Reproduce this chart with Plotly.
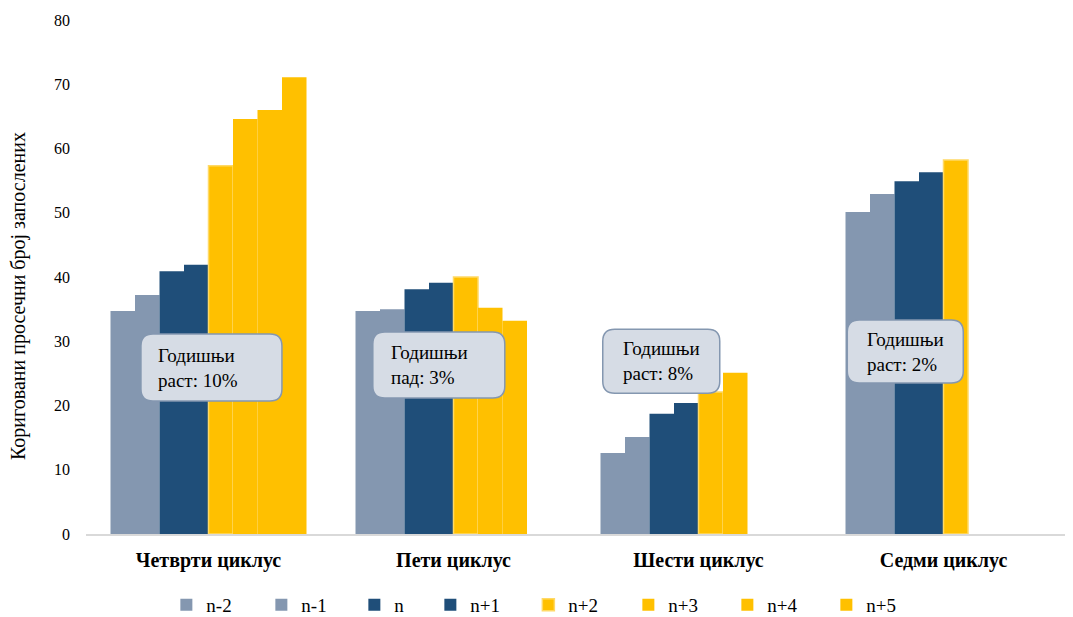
import plotly.graph_objects as go

cycles = ["Четврти циклус", "Пети циклус", "Шести циклус", "Седми циклус"]
series_names = ["n-2", "n-1", "n", "n+1", "n+2", "n+3", "n+4", "n+5"]

n_m2 = [34.7, 34.7, 12.6, 50.1]
n_m1 = [37.2, 35.0, 15.1, 52.9]
n_0 = [40.9, 38.1, 18.7, 54.9]
n_p1 = [41.9, 39.1, 20.4, 56.3]
n_p2 = [57.3, 40.0, 22.1, 58.2]
n_p3 = [64.6, 35.2, 25.1, None]
n_p4 = [66.0, 33.2, None, None]
n_p5 = [71.1, None, None, None]

series_values = [n_m2, n_m1, n_0, n_p1, n_p2, n_p3, n_p4, n_p5]

growth_notes = ["Годишњи<br>раст: 10%", "Годишњи<br>пад: 3%",
                "Годишњи<br>раст: 8%", "Годишњи<br>раст: 2%"]

GRAY_BLUE = "#8497B0"
DARK_BLUE = "#1F4E79"
GOLD = "#FFC000"
colors = [GRAY_BLUE, GRAY_BLUE, DARK_BLUE, DARK_BLUE, GOLD, GOLD, GOLD, GOLD]
legend_widths = [50, 48, 31, 53, 55, 54, 54, 54]

SERIF = "Liberation Serif"

fig = go.Figure()
for name, vals, col, lw in zip(series_names, series_values, colors, legend_widths):
    line = dict(width=0)
    if name == "n+2":
        line = dict(width=1.5, color="#FFD966")
    fig.add_trace(go.Bar(x=cycles, y=vals, name=name, legendwidth=lw,
                         marker=dict(color=col, line=line)))

# rounded note boxes: (paper x of centre, y value of centre, width px, height px, text x paper)
boxes = [
    (0.128, 25.9, 141, 67, 0.0714),
    (0.360, 26.3, 132, 66, 0.309),
    (0.587, 26.9, 117, 64, 0.546),
    (0.836, 28.4, 116, 63, 0.795),
]


def rounded_rect(w, h, r):
    x0, x1, y0, y1 = -w / 2, w / 2, -h / 2, h / 2
    return (f"M{x0 + r},{y0} L{x1 - r},{y0} Q{x1},{y0} {x1},{y0 + r} "
            f"L{x1},{y1 - r} Q{x1},{y1} {x1 - r},{y1} L{x0 + r},{y1} "
            f"Q{x0},{y1} {x0},{y1 - r} L{x0},{y0 + r} Q{x0},{y0} {x0 + r},{y0} Z")


for (cx, cy, w, h, tx), note in zip(boxes, growth_notes):
    fig.add_shape(type="path", xref="paper", yref="y", xsizemode="pixel", ysizemode="pixel",
                  xanchor=cx, yanchor=cy, path=rounded_rect(w, h, 12),
                  fillcolor="#D6DCE5", line=dict(color=GRAY_BLUE, width=1.5), layer="above")
    fig.add_annotation(x=tx, y=cy, xref="paper", yref="y", text=note, showarrow=False,
                       xanchor="left", yanchor="middle", align="left",
                       font=dict(family=SERIF, size=19, color="#000000"))

# y axis title, placed a bit below the axis centre as in the original
fig.add_annotation(x=-0.0694, y=0.463, xref="paper", yref="paper", textangle=-90,
                   text="Кориговани просечни број запослених", showarrow=False,
                   xanchor="center", yanchor="middle",
                   font=dict(family=SERIF, size=20, color="#000000"))

fig.update_layout(
    width=1065, height=617,
    margin=dict(l=78, r=7, t=12, b=91, autoexpand=False),
    plot_bgcolor="white", paper_bgcolor="white",
    barmode="group", bargap=0.2, bargroupgap=0,
    font=dict(family=SERIF, color="#000000"),
    legend=dict(orientation="h", x=0.082, xanchor="left", y=-0.138, yanchor="middle",
                font=dict(family=SERIF, size=19, color="#000000")),
    showlegend=True,
)
fig.update_xaxes(showline=True, linecolor="#D9D9D9", linewidth=1.5, ticks="", automargin=False,
                 ticklabelstandoff=7,
                 tickfont=dict(family=SERIF, size=20, color="#000000", weight="bold"))
fig.update_yaxes(range=[0, 80], dtick=10, showgrid=False, zeroline=False, ticks="",
                 automargin=False, ticklabelstandoff=15,
                 tickfont=dict(family=SERIF, size=16, color="#000000"))

fig.write_html("out.html")
